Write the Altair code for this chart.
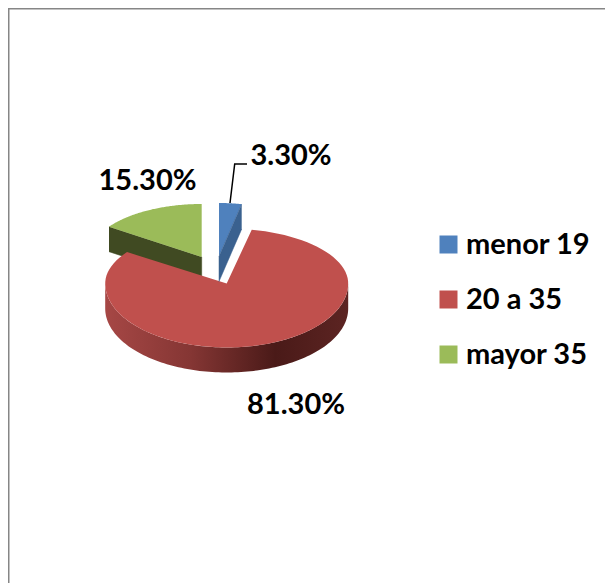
import numpy as np
import pandas as pd
import altair as alt

categorias = ["menor 19", "20 a 35", "mayor 35"]
valores = [3.3, 81.3, 15.3]
colores = ["#4F81BD", "#C0504D", "#9BBB59"]
colores_lado = ["#3A618F", None, "#404A22"]

FONT = "Lato"
W, H = 597, 575
DEPTH = 25
OX, OY = 8, 8  # page margin

total = sum(valores)
bordes = np.cumsum([0] + valores) / total * 360

# centre (page px), half-width, back and front half-heights of each slice
geo = {
    "menor 19": (219.0, 256.5, 110.0, 53.5, 64.0),
    "20 a 35": (226.7, 283.5, 121.5, 55.0, 64.0),
    "mayor 35": (201.7, 257.0, 113.0, 53.0, 60.0),
}


def punto(cat, deg):
    cx, cy, a, bb, bf = geo[cat]
    s, c = np.sin(np.radians(deg)), np.cos(np.radians(deg))
    return cx + a * s - OX, cy - (bb if c > 0 else bf) * c - OY


filas_top = []
for i, cat in enumerate(categorias):
    cx, cy, *_ = geo[cat]
    pts = [(cx - OX, cy - OY)] + [
        punto(cat, d) for d in np.linspace(bordes[i], bordes[i + 1], 90)
    ]
    for k, (x, y) in enumerate(pts):
        filas_top.append({"categoria": cat, "x": x, "y": y, "k": k, "capa": i})
df_top = pd.DataFrame(filas_top)

xs = alt.X("x:Q", axis=None, scale=alt.Scale(domain=[0, W], range=[0, W]))
ys = alt.Y("y:Q", axis=None, scale=alt.Scale(domain=[0, H], range=[0, H]))


def pared(cat, deg, color):
    cx, cy, *_ = geo[cat]
    x0, y0 = cx - OX, cy - OY
    x1, y1 = punto(cat, deg)
    d = pd.DataFrame(
        {
            "x": [x1, x0, x0, x1],
            "y": [y1, y0, y0 + DEPTH, y1 + DEPTH],
            "k": [0, 1, 2, 3],
        }
    )
    return (
        alt.Chart(d)
        .mark_line(fill=color, stroke=color, strokeWidth=0.5)
        .encode(x=xs, y=ys, order="k:Q")
    )


pared_verde = pared("mayor 35", bordes[2], colores_lado[2])
pared_azul = pared("menor 19", bordes[1], colores_lado[0])

ang = np.linspace(90, 270, 120)
borde_rojo = [punto("20 a 35", d) for d in ang]
df_lado = pd.DataFrame(
    {
        "x": [p[0] for p in borde_rojo],
        "y": [p[1] for p in borde_rojo],
        "y2": [p[1] + DEPTH for p in borde_rojo],
    }
).sort_values("x")
lado_rojo = (
    alt.Chart(df_lado)
    .mark_area(
        color=alt.Gradient(
            gradient="linear",
            x1=0,
            x2=1,
            y1=0,
            y2=0,
            stops=[
                alt.GradientStop(color="#A64745", offset=0),
                alt.GradientStop(color="#853634", offset=0.35),
                alt.GradientStop(color="#4A1A18", offset=0.7),
                alt.GradientStop(color="#5C2422", offset=1),
            ],
        )
    )
    .encode(x=xs, y=ys, y2="y2:Q")
)

base_top = alt.Chart(df_top).mark_line(strokeWidth=0)
top = base_top.encode(
    x=xs,
    y=ys,
    order="k:Q",
    detail="categoria:N",
    fill=alt.Fill(
        "categoria:N",
        scale=alt.Scale(domain=categorias, range=colores),
        legend=alt.Legend(
            title=None,
            orient="none",
            legendX=426,
            legendY=222,
            symbolType="square",
            symbolSize=324,
            symbolStrokeWidth=0,
            labelFont=FONT,
            labelFontWeight="bold",
            labelFontSize=29,
            labelColor="#000000",
            labelOffset=3,
            rowPadding=25,
        ),
    ),
)
top_verde = top.transform_filter(alt.datum.categoria == "mayor 35")
top_rest = top.transform_filter(alt.datum.categoria != "mayor 35")

df_et = pd.DataFrame(
    {
        "t": [f"{v:.2f}%" for v in valores],
        "x": [291 - OX, 296 - OX, 147.5 - OX],
        "y": [165 - OY, 414 - OY, 190 - OY],
    }
)
etiquetas = (
    alt.Chart(df_et)
    .mark_text(font=FONT, fontWeight="bold", fontSize=29, color="#000000", align="center", baseline="alphabetic")
    .encode(x=xs, y=ys, text="t:N")
)

df_guia = pd.DataFrame(
    {"x": [230 - OX, 234.7 - OX, 247 - OX], "y": [203 - OY, 164 - OY, 164 - OY], "k": [0, 1, 2]}
)
guia = (
    alt.Chart(df_guia)
    .mark_line(color="#000000", strokeWidth=1.5)
    .encode(x=xs, y=ys, order="k:Q")
)

marco_izq = alt.Chart(pd.DataFrame({"a": [0]})).mark_rule(color="#868686", strokeWidth=2).encode(
    x=alt.value(0.5), y=alt.value(0), y2=alt.value(H)
)
marco_sup = alt.Chart(pd.DataFrame({"a": [0]})).mark_rule(color="#868686", strokeWidth=2).encode(
    y=alt.value(0.5), x=alt.value(0), x2=alt.value(W)
)

chart = (
    alt.layer(
        marco_izq,
        marco_sup,
        pared_verde,
        top_verde,
        lado_rojo,
        top_rest,
        pared_azul,
        guia,
        etiquetas,
    )
    .properties(width=W, height=H, padding=0, autosize=alt.AutoSizeParams(type="none"))
    .configure_view(stroke=None)
)

chart.save("out.html", embed_options={"renderer": "svg", "actions": False})
